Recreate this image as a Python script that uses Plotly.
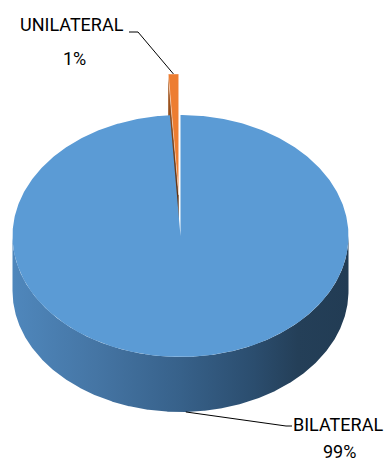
import numpy as np
import plotly.graph_objects as go

# Slice data
labels = ["BILATERAL", "UNILATERAL"]
values = [99, 1]
top_colors = ["#5b9bd5", "#ed7d31"]
pull = [0.0, 0.34]

# Side-wall shading of the blue slice (left -> right)
side_scale = [
    [0.00, "#4f87bc"],
    [0.25, "#4575a4"],
    [0.50, "#37618a"],
    [0.72, "#2b4d6e"],
    [0.85, "#243f58"],
    [1.00, "#223c54"],
]

W, H = 384, 468
cx, cy = 180.5, 236.0      # centre of the top ellipse
rx, ry = 168.0, 121.0      # ellipse radii
depth = 55.0               # wall height
FONT = "Roboto, Liberation Sans, sans-serif"
FONT_SIZE = 18


def proj(theta, r=1.0, z=0.0, off=(0.0, 0.0)):
    t = np.radians(theta)
    x = cx + off[0] + r * np.sin(t) * rx
    y = cy + off[1] - r * np.cos(t) * ry + z
    return x, y


total = float(sum(values))
angles = np.concatenate([[0.0], np.cumsum(values) / total * 360.0])

fig = go.Figure()
traces_back, traces_front = [], []
anchors = {}

for i, (lab, v) in enumerate(zip(labels, values)):
    a0, a1 = angles[i], angles[i + 1]
    mid = (a0 + a1) / 2
    t = np.radians(mid)
    off = (pull[i] * np.sin(t) * rx, -pull[i] * np.cos(t) * ry)
    arc = np.linspace(a0, a1, 600)

    # top face
    ax, ay = proj(arc, off=off)
    ox, oy = proj(0, r=0, off=off)
    edge = dict(color="rgba(255,255,255,0.7)", width=0.6) if pull[i] > 0 else dict(width=0)
    top = go.Scatter(
        x=np.concatenate([[ox], ax, [ox]]), y=np.concatenate([[oy], ay, [oy]]),
        fill="toself", fillcolor=top_colors[i], mode="lines",
        line=edge, hoverinfo="skip",
    )

    parts = []
    # cut face at the starting edge (visible for the back slice)
    if pull[i] > 0:
        rx0, ry0 = proj(a0, off=off)
        cxs = [ox, rx0, rx0, ox, ox]
        cys = [oy, ry0, ry0 + depth, oy + depth, oy]
        parts.append(go.Scatter(
            x=cxs, y=cys, fill="toself", mode="lines",
            fillgradient=dict(type="vertical", start=ry0, stop=oy + depth,
                              colorscale=[[0, "#b35f22"], [0.5, "#6e3a16"], [1, "#4a2810"]]),
            line=dict(width=0), hoverinfo="skip",
        ))
    # outer wall, front half only
    s0, s1 = max(a0, 90.0), min(a1, 270.0)
    if s1 > s0:
        wall = np.linspace(s0, s1, 600)
        wx, wy = proj(wall, off=off)
        xs = np.concatenate([wx, wx[::-1], [wx[0]]])
        ys = np.concatenate([wy, wy[::-1] + depth, [wy[0]]])
        parts.append(go.Scatter(
            x=xs, y=ys, fill="toself", mode="lines",
            fillgradient=dict(type="horizontal", start=xs.min(), stop=xs.max(),
                              colorscale=side_scale),
            line=dict(width=0), hoverinfo="skip",
        ))
    parts.append(top)
    if pull[i] > 0:
        traces_back += parts
        anchors[lab] = proj(mid, off=off)
    else:
        traces_front += parts
        bx, by = proj(mid, off=off)
        anchors[lab] = (bx, by + depth)

for tr in traces_back + traces_front:
    fig.add_trace(tr)

# leader lines and labels
label_pos = {
    "UNILATERAL": dict(name=(72, 24), pct=(74.5, 58), elbow=[(129, 32), (138, 32)]),
    "BILATERAL": dict(name=(338, 424), pct=(339, 451), elbow=[(292, 426), (286, 426)]),
}
for lab, v in zip(labels, values):
    p = label_pos[lab]
    ax_, ay_ = anchors[lab]
    pts = p["elbow"] + [(ax_, ay_)]
    fig.add_trace(go.Scatter(
        x=[q[0] for q in pts], y=[q[1] for q in pts], mode="lines",
        line=dict(color="#000000", width=1), hoverinfo="skip",
    ))
    fig.add_annotation(x=p["name"][0], y=p["name"][1], text=lab, showarrow=False,
                       xanchor="center", yanchor="middle",
                       font=dict(family=FONT, size=FONT_SIZE, color="#000000"))
    fig.add_annotation(x=p["pct"][0], y=p["pct"][1], text=f"{v / total * 100:.0f}%",
                       showarrow=False, xanchor="center", yanchor="middle",
                       font=dict(family=FONT, size=FONT_SIZE, color="#000000"))

fig.update_layout(
    width=W, height=H, margin=dict(l=0, r=0, t=0, b=0),
    paper_bgcolor="white", plot_bgcolor="white", showlegend=False,
    xaxis=dict(range=[0, W], visible=False, fixedrange=True),
    yaxis=dict(range=[H, 0], visible=False, fixedrange=True),
)

fig.write_html("out.html")
